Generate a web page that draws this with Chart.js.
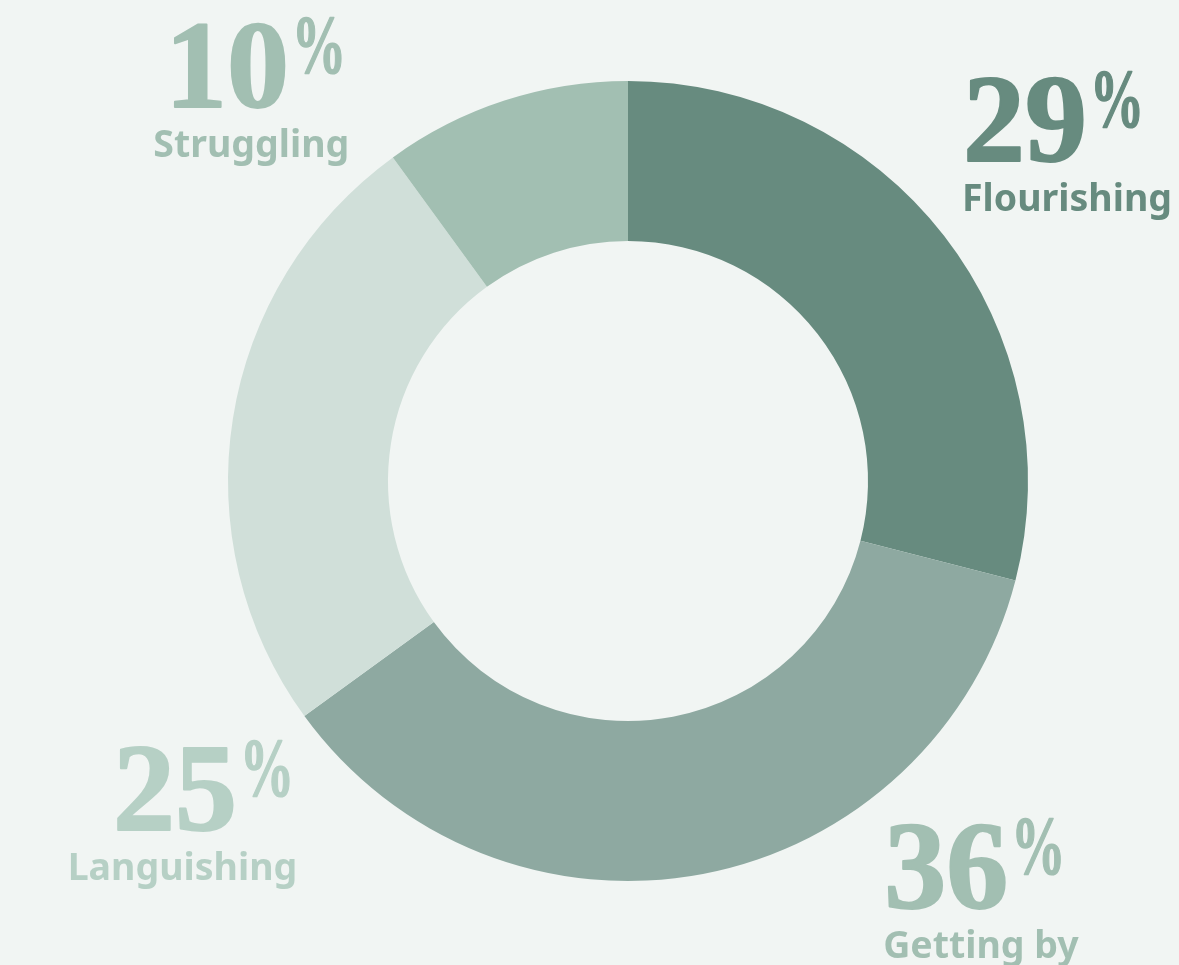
<!DOCTYPE html>
<html>
<head>
<meta charset="utf-8">
<script src="https://cdn.jsdelivr.net/npm/chart.js@4.4.1/dist/chart.umd.min.js"></script>
<style>
  html, body { margin: 0; padding: 0; background: #f1f5f3; }
  #wrap { width: 1179px; height: 965px; position: relative; }
</style>
</head>
<body>
<div id="wrap"><canvas id="donut" width="1179" height="965"></canvas></div>
<script>
// Share of respondents in each wellbeing group
const categories = ['Flourishing', 'Getting by', 'Languishing', 'Struggling'];
const shares = [29, 36, 25, 10];
const sliceColors = ['#678b7f', '#8ea9a1', '#d0dfd9', '#a2bfb2'];
const labelColors = ['#678b7f', '#a2bfb2', '#b6d0c5', '#a2bfb2'];

// Where each callout sits, relative to the ring centre (in outer radii).
// side: 'left' = text starts at the anchor, 'right' = text ends at it.
const calloutPlacement = [
  { dx: 0.835, dy: -0.80, side: 'left' },
  { dx: 0.638, dy: 1.067, side: 'left' },
  { dx: -0.832, dy: 0.872, side: 'right' },
  { dx: -0.702, dy: -0.935, side: 'right' }
];

const NUM_FONT = '700 124px "Liberation Serif", "Times New Roman", serif';
const PCT_FONT = '700 82px "Liberation Serif", "Times New Roman", serif';
const NAME_FONT = '700 37.5px "Noto Sans", "Open Sans", sans-serif';
const PCT_SQUEEZE = 0.66;

const callouts = {
  id: 'callouts',
  afterDraw(chart) {
    const arc = chart.getDatasetMeta(0).data[0];
    const cx = arc.x, cy = arc.y, R = arc.outerRadius;
    const ctx = chart.ctx;
    ctx.save();
    ctx.textBaseline = 'alphabetic';
    ctx.lineJoin = 'round';
    categories.forEach((name, i) => {
      const p = calloutPlacement[i];
      const ax = cx + p.dx * R;
      const ay = cy + p.dy * R;
      const numText = String(shares[i]);
      ctx.fillStyle = labelColors[i];
      ctx.strokeStyle = labelColors[i];

      ctx.font = NUM_FONT;
      const numW = ctx.measureText(numText).width;
      ctx.font = PCT_FONT;
      const pctW = ctx.measureText('%').width * PCT_SQUEEZE;
      const gap = 3;
      const totalW = numW + gap + pctW;
      const startX = p.side === 'left' ? ax + 1 : ax - totalW - 1;

      // big number, slightly thickened with a stroke of its own colour
      ctx.font = NUM_FONT;
      ctx.textAlign = 'left';
      ctx.lineWidth = 2;
      ctx.fillText(numText, startX, ay);
      ctx.strokeText(numText, startX, ay);

      // superscript percent sign, narrowed
      ctx.save();
      ctx.translate(startX + numW + gap, ay - 35);
      ctx.scale(PCT_SQUEEZE, 1);
      ctx.font = PCT_FONT;
      ctx.lineWidth = 1.5;
      ctx.fillText('%', 0, 0);
      ctx.strokeText('%', 0, 0);
      ctx.restore();

      // category name
      ctx.font = NAME_FONT;
      ctx.textAlign = p.side === 'left' ? 'left' : 'right';
      ctx.fillText(name, p.side === 'left' ? ax : ax + 2, ay + 50);
    });
    ctx.restore();
  }
};

new Chart(document.getElementById('donut'), {
  type: 'doughnut',
  data: {
    labels: categories,
    datasets: [{
      data: shares,
      backgroundColor: sliceColors,
      borderWidth: 0,
      hoverOffset: 0
    }]
  },
  options: {
    responsive: false,
    animation: false,
    cutout: '60%',
    layout: { padding: { top: 81, bottom: 84, left: 228, right: 151 } },
    plugins: {
      legend: { display: false },
      tooltip: { enabled: false }
    }
  },
  plugins: [callouts]
});
</script>
</body>
</html>
